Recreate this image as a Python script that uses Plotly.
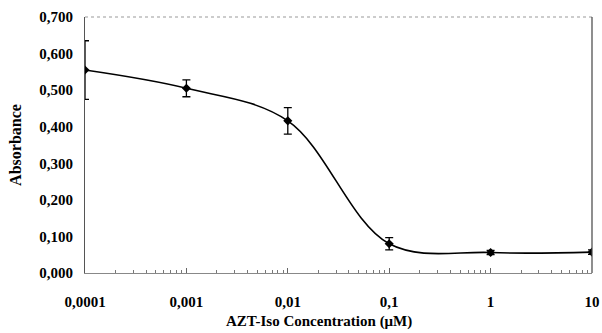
import plotly.graph_objects as go
import numpy as np

conc = [0.0001, 0.001, 0.01, 0.1, 1, 10]
absorb = [0.555, 0.505, 0.416, 0.080, 0.056, 0.057]
err = [0.080, 0.023, 0.036, 0.017, 0.006, 0.006]

xticks = [0.0001, 0.001, 0.01, 0.1, 1, 10]
xticklabels = ["0,0001", "0,001", "0,01", "0,1", "1", "10"]
yticks = [0, 0.1, 0.2, 0.3, 0.4, 0.5, 0.6, 0.7]
yticklabels = ["0,000", "0,100", "0,200", "0,300", "0,400", "0,500", "0,600", "0,700"]

minor_vals = [m * 10.0 ** e for e in range(-4, 1) for m in range(2, 10)]

font = "Liberation Serif"

fig = go.Figure()
fig.add_trace(go.Scatter(
    x=conc, y=absorb, mode="lines+markers",
    line=dict(color="black", width=1.6, shape="spline", smoothing=1.0),
    marker=dict(symbol="diamond", size=7, color="black"),
    error_y=dict(type="data", array=err, visible=True, color="black", thickness=1.3, width=4),
    showlegend=False,
))

fig.add_shape(type="line", xref="x domain", yref="y domain", x0=0, x1=1, y0=1, y1=1,
              line=dict(color="#999999", width=1, dash="dot"))
fig.add_shape(type="line", xref="x domain", yref="y domain", x0=1, x1=1, y0=0, y1=1,
              line=dict(color="#444444", width=1.2))

fig.add_annotation(text="AZT-Iso Concentration (μM)", xref="paper", yref="paper",
                   x=0.4615, y=-0.191, xanchor="center", yanchor="middle", showarrow=False,
                   font=dict(family=font, size=15, color="black", weight="bold"))

fig.update_layout(
    width=602, height=333,
    margin=dict(l=85, r=10, t=17, b=60),
    paper_bgcolor="white", plot_bgcolor="white",
    font=dict(family=font, size=14, color="black"),
    xaxis=dict(
        type="log", range=[-4, 1], automargin=False,
        tickvals=xticks, ticktext=xticklabels,
        tickfont=dict(family=font, size=15, color="black", weight="bold"),
        showgrid=False, zeroline=False,
        showline=True, linecolor="#888888", linewidth=1,
        ticks="inside", ticklen=5, tickcolor="#666666",
        minor=dict(tickvals=minor_vals, ticks="inside", ticklen=3, tickcolor="#777777", showgrid=False),
        ticklabelstandoff=15,
    ),
    yaxis=dict(
        range=[0, 0.7], automargin=False,
        tickvals=yticks, ticktext=yticklabels,
        tickfont=dict(family=font, size=15, color="black", weight="bold"),
        showgrid=False, zeroline=False,
        showline=True, linecolor="#555555", linewidth=1.2,
        ticks="",
        title=dict(text="Absorbance", font=dict(family=font, size=16, color="black", weight="bold"), standoff=13),
        ticklabelstandoff=8,
    ),
)

fig.write_html("out.html")
